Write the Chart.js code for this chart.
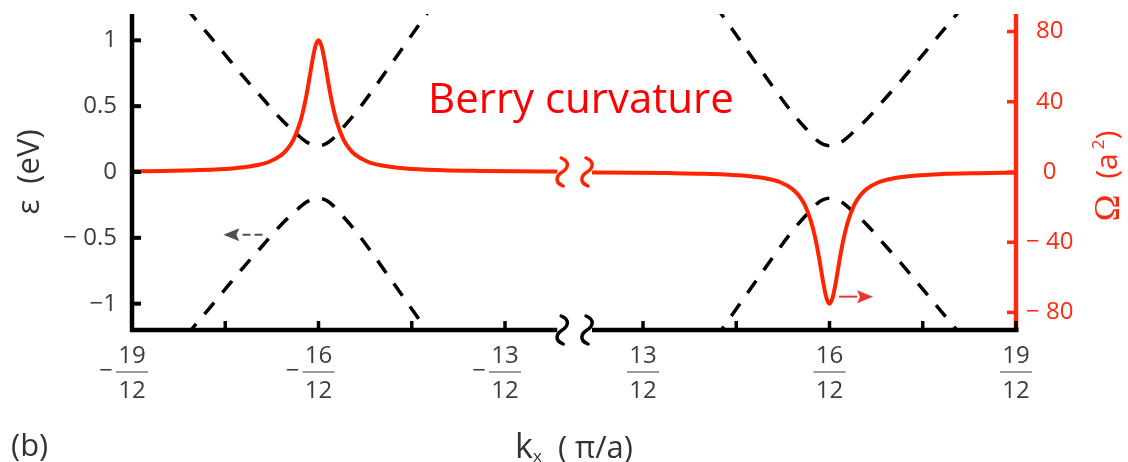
<!DOCTYPE html>
<html>
<head>
<meta charset="utf-8">
<script src="https://cdn.jsdelivr.net/npm/chart.js@4/dist/chart.umd.min.js"></script>
<style>
  html, body { margin: 0; padding: 0; background: #fff; }
  canvas { display: block; }
</style>
</head>
<body>
<canvas id="berryChart" width="1128" height="462"></canvas>
<script>
// k_x is stored in units of pi/(12a); the axis is broken between -12/12 and 12/12
const BREAK_SHIFT = 23.78;
const BREAK_LEFT_END = -12.16;
const BREAK_RIGHT_START = 12.18;

// Berry curvature Omega (a^2), right axis
const kBerryLeft = [-19, -18.5, -18, -17.6, -17.2, -17, -16.8, -16.6, -16.5, -16.4, -16.3, -16.25, -16.2, -16.15, -16.1, -16.05,
  -16, -15.95, -15.9, -15.85, -15.8, -15.75, -15.7, -15.6, -15.5, -15.4, -15.2, -15, -14.6, -14, -13.4, -12.8, -12.16];
const omegaLeft = [0.4, 0.6, 1.0, 1.5, 2.7, 3.8, 5.7, 9.6, 13.1, 18.6, 27.8, 34.4, 42.7, 52.6, 63.1, 71.6,
  75, 71.6, 63.1, 52.6, 42.7, 34.4, 27.8, 18.6, 13.1, 9.6, 5.7, 3.8, 2.0, 1.0, 0.6, 0.4, 0.3];
const kBerryRight = [12.18, 12.8, 13.4, 14, 14.6, 15, 15.2, 15.4, 15.5, 15.6, 15.7, 15.75, 15.8, 15.85, 15.9, 15.95,
  16, 16.05, 16.1, 16.15, 16.2, 16.25, 16.3, 16.4, 16.5, 16.6, 16.8, 17, 17.4, 17.8, 18.4, 19];
const omegaRight = [-0.3, -0.4, -0.6, -1.0, -2.0, -3.8, -5.7, -9.6, -13.1, -18.6, -27.8, -34.4, -42.7, -52.6, -63.1, -71.6,
  -75, -71.6, -63.1, -52.6, -42.7, -34.4, -27.8, -18.6, -13.1, -9.6, -5.7, -3.8, -2.0, -1.2, -0.7, -0.4];

// band energies epsilon (eV), left axis
const kBandLeft = [-18.4, -18.1, -17.8, -17.5, -17.2, -16.9, -16.6, -16.4, -16.2, -16.1, -16, -15.9, -15.8, -15.6, -15.4, -15.1, -14.8, -14.5, -14.2, -13.9];
const eUpperLeft = [1.41, 1.23, 1.06, 0.89, 0.72, 0.56, 0.40, 0.31, 0.23, 0.21, 0.20, 0.21, 0.24, 0.34, 0.45, 0.64, 0.84, 1.04, 1.24, 1.44];
const eLowerLeft = [-1.41, -1.23, -1.06, -0.89, -0.72, -0.56, -0.40, -0.31, -0.23, -0.21, -0.20, -0.21, -0.24, -0.34, -0.45, -0.64, -0.84, -1.04, -1.24, -1.44];
const kBandRight = [13.9, 14.2, 14.5, 14.8, 15.1, 15.4, 15.6, 15.8, 15.9, 16, 16.1, 16.2, 16.4, 16.6, 16.9, 17.2, 17.5, 17.8, 18.1, 18.4];
const eUpperRight = [1.44, 1.24, 1.04, 0.84, 0.64, 0.45, 0.34, 0.24, 0.21, 0.20, 0.21, 0.23, 0.31, 0.40, 0.56, 0.72, 0.89, 1.06, 1.23, 1.41];
const eLowerRight = [-1.44, -1.24, -1.04, -0.84, -0.64, -0.45, -0.34, -0.24, -0.21, -0.20, -0.21, -0.23, -0.31, -0.40, -0.56, -0.72, -0.89, -1.06, -1.23, -1.41];

// ticks
const xTickValues = [-19, -17.5, -16, -14.5, -13, 13, 14.5, 16, 17.5, 19];
const xTickNumerators = ['19', '', '16', '', '13', '13', '', '16', '', '19'];
const epsTicks = [-1, -0.5, 0, 0.5, 1];
const epsTickLabels = ['\u22121', '\u2212 0.5', '0', '0.5', '1'];
const omegaTicks = [-80, -40, 0, 40, 80];
const omegaTickLabels = ['\u2212 80', '\u2212 40', '0', '40', '80'];

const FONT = '"Open Sans", "Noto Sans", sans-serif';
const CURVE_RED = '#ff2400';
const AXIS_RED = '#ff2a10';
const TEXT_DARK = '#333333';
const TICK_GRAY = '#3c3c3c';

Chart.defaults.font.family = FONT;

function toAxis(u) { return u < 0 ? u : u - BREAK_SHIFT; }
function pts(ks, vs) { return ks.map((k, i) => ({ x: toAxis(k), y: vs[i] })); }

function line(ctx, x1, y1, x2, y2) {
  ctx.beginPath(); ctx.moveTo(x1, y1); ctx.lineTo(x2, y2); ctx.stroke();
}

// vertical squiggle used for the axis break
function squiggle(ctx, cx, cy, color) {
  const h = 14;
  ctx.save();
  ctx.strokeStyle = color;
  ctx.lineWidth = 3.5;
  ctx.lineCap = 'round';
  ctx.beginPath();
  ctx.moveTo(cx - 1, cy - h);
  ctx.bezierCurveTo(cx + 9, cy - h + 4, cx + 5, cy - 3, cx, cy);
  ctx.bezierCurveTo(cx - 5, cy + 3, cx - 9, cy + h - 4, cx + 1, cy + h);
  ctx.stroke();
  ctx.restore();
}

function arrow(ctx, x1, y, x2, color, dashed) {
  const dir = Math.sign(x2 - x1);
  const headLen = 16, headHalf = 6.5;
  ctx.save();
  ctx.strokeStyle = color; ctx.fillStyle = color; ctx.lineWidth = 2;
  if (dashed) ctx.setLineDash([8, 4]);
  line(ctx, x1, y, x2 - dir * headLen, y);
  ctx.setLineDash([]);
  ctx.beginPath();
  ctx.moveTo(x2, y);
  ctx.lineTo(x2 - dir * headLen, y - headHalf);
  ctx.lineTo(x2 - dir * (headLen - 3), y);
  ctx.lineTo(x2 - dir * headLen, y + headHalf);
  ctx.closePath();
  ctx.fill();
  ctx.restore();
}

// fixed axis box sizes; tick labels are allowed to overhang the plot edges
function fixWidth(w) {
  return s => { s.width = w; s.paddingTop = 0; s.paddingBottom = 0; };
}

const axisDecor = {
  id: 'axisDecor',
  afterDatasetsDraw(chart) {
    const { ctx, chartArea: a, scales: { x, y, y2 } } = chart;
    ctx.save();
    ctx.lineCap = 'butt';

    // right Omega axis with inward ticks
    ctx.strokeStyle = AXIS_RED;
    ctx.lineWidth = 4.5;
    line(ctx, a.right, a.top, a.right, a.bottom);
    ctx.lineWidth = 3.5;
    omegaTicks.forEach(v => { const py = y2.getPixelForValue(v); line(ctx, a.right - 9, py, a.right, py); });

    // left epsilon axis with inward ticks
    ctx.strokeStyle = '#000';
    ctx.lineWidth = 4.5;
    line(ctx, a.left, a.top, a.left, a.bottom + 2);
    ctx.lineWidth = 4;
    epsTicks.forEach(v => { const py = y.getPixelForValue(v); line(ctx, a.left, py, a.left + 9, py); });

    // broken k_x axis
    const gapL = x.getPixelForValue(toAxis(BREAK_LEFT_END));
    const gapR = x.getPixelForValue(toAxis(BREAK_RIGHT_START));
    ctx.lineWidth = 4.5;
    line(ctx, a.left - 2, a.bottom, gapL, a.bottom);
    line(ctx, gapR, a.bottom, a.right + 2.5, a.bottom);
    ctx.lineWidth = 3.5;
    xTickValues.forEach(u => { const px = x.getPixelForValue(toAxis(u)); line(ctx, px, a.bottom, px, a.bottom - 9); });

    const zeroY = y2.getPixelForValue(0);
    [gapL + 5, gapR - 5].forEach(px => {
      squiggle(ctx, px, zeroY, CURVE_RED);
      squiggle(ctx, px, a.bottom, '#000');
    });

    // arrows pointing to the axis each curve belongs to
    arrow(ctx, x.getPixelForValue(toAxis(-16.9)), y.getPixelForValue(-0.477), x.getPixelForValue(toAxis(-17.53)), '#505050', true);
    arrow(ctx, x.getPixelForValue(toAxis(16.15)), y2.getPixelForValue(-71), x.getPixelForValue(toAxis(16.7)), '#ee3333', false);
    ctx.restore();
  },
  afterDraw(chart) {
    const { ctx, chartArea: a, scales: { x } } = chart;
    ctx.save();

    // fraction bars and leading minus signs for the k_x tick labels
    const barY = a.bottom + 42;
    ctx.strokeStyle = '#777';
    ctx.fillStyle = TICK_GRAY;
    ctx.lineWidth = 1.5;
    ctx.font = '24px ' + FONT;
    ctx.textAlign = 'right';
    ctx.textBaseline = 'middle';
    x.ticks.forEach((t, i) => {
      if (!xTickNumerators[i]) return;
      const px = x.getPixelForValue(t.value);
      line(ctx, px - 16, barY, px + 16, barY);
      if (xTickValues[i] < 0) ctx.fillText('\u2212', px - 19, barY - 1);
    });

    // Omega axis title, reading upwards
    ctx.save();
    ctx.translate(1108, 176);
    ctx.rotate(-Math.PI / 2);
    ctx.fillStyle = AXIS_RED;
    ctx.textBaseline = 'middle';
    ctx.textAlign = 'left';
    const om = 'Ω';
    ctx.font = '36px "Liberation Serif", serif';
    const wOm = ctx.measureText(om).width;
    ctx.font = '30px ' + FONT;
    const wA = ctx.measureText(' (a').width;
    ctx.font = '17px ' + FONT;
    const w2 = ctx.measureText('2').width;
    ctx.font = '30px ' + FONT;
    const wP = ctx.measureText(')').width;
    let cx = -(wOm + 8 + wA + 4 + w2 + wP) / 2;
    ctx.font = '36px "Liberation Serif", serif';
    ctx.fillText(om, cx, 2); cx += wOm + 8;
    ctx.font = '30px ' + FONT;
    ctx.fillText(' (a', cx, 0); cx += wA + 4;
    ctx.font = '17px ' + FONT;
    ctx.fillText('2', cx, -9); cx += w2;
    ctx.font = '30px ' + FONT;
    ctx.fillText(')', cx, 0);
    ctx.restore();

    // k_x axis title
    ctx.fillStyle = TEXT_DARK;
    ctx.textAlign = 'left';
    ctx.textBaseline = 'alphabetic';
    const titleY = 458;
    ctx.font = '34px ' + FONT;
    const wk = ctx.measureText('k').width;
    ctx.font = '17px ' + FONT;
    const wx = ctx.measureText('x').width;
    ctx.font = '31px ' + FONT;
    const rest = '  ( \u03c0/a)';
    const wr = ctx.measureText(rest).width;
    let tx = (a.left + a.right) / 2 - (wk + wx + wr) / 2;
    ctx.font = '34px ' + FONT;
    ctx.fillText('k', tx, titleY); tx += wk;
    ctx.font = '17px ' + FONT;
    ctx.fillText('x', tx, titleY + 4); tx += wx;
    ctx.font = '31px ' + FONT;
    ctx.fillText(rest, tx, titleY);

    // panel letter
    ctx.font = '31px ' + FONT;
    ctx.fillText('(b)', 11, 456);

    // curve caption
    ctx.fillStyle = '#ff0000';
    ctx.font = '42px ' + FONT;
    ctx.fillText('Berry curvature', 428, 113);
    ctx.restore();
  }
};

const berryDs = (data) => ({
  data, yAxisID: 'y2', borderColor: CURVE_RED, borderWidth: 4,
  pointRadius: 0, cubicInterpolationMode: 'monotone'
});
const bandDs = (data) => ({
  data, yAxisID: 'y', borderColor: '#000', borderWidth: 3.5, borderDash: [15, 13],
  pointRadius: 0, cubicInterpolationMode: 'monotone'
});

new Chart(document.getElementById('berryChart'), {
  type: 'line',
  data: {
    datasets: [
      berryDs(pts(kBerryLeft, omegaLeft)),
      berryDs(pts(kBerryRight, omegaRight)),
      bandDs(pts(kBandLeft, eUpperLeft)),
      bandDs(pts(kBandLeft, eLowerLeft)),
      bandDs(pts(kBandRight, eUpperRight)),
      bandDs(pts(kBandRight, eLowerRight))
    ]
  },
  options: {
    responsive: false,
    animation: false,
    devicePixelRatio: 1,
    layout: { padding: { top: 14 } },
    plugins: { legend: { display: false }, tooltip: { enabled: false } },
    scales: {
      x: {
        type: 'linear',
        min: -19,
        max: toAxis(19),
        grid: { display: false, drawTicks: false },
        border: { display: false },
        afterBuildTicks: s => { s.ticks = xTickValues.map(u => ({ value: toAxis(u) })); },
        afterFit: s => { s.height = 132; },
        ticks: {
          autoSkip: false, maxRotation: 0, padding: 9, color: TICK_GRAY,
          font: { size: 24, lineHeight: 1.45 },
          callback: (v, i) => xTickNumerators[i] ? [xTickNumerators[i], '12'] : ''
        }
      },
      y: {
        position: 'left',
        min: -1.2,
        max: 1.2,
        grid: { display: false, drawTicks: false },
        border: { display: false },
        afterBuildTicks: s => { s.ticks = epsTicks.map(v => ({ value: v })); },
        afterFit: fixWidth(132),
        ticks: {
          padding: 15, color: TICK_GRAY, font: { size: 24, lineHeight: 1 },
          callback: (v, i) => epsTickLabels[i]
        },
        title: {
          display: true, text: 'ε  (eV)', color: TEXT_DARK,
          font: { size: 31 }, padding: { top: 12, bottom: 0 }
        }
      },
      y2: {
        position: 'right',
        min: -90,
        max: 90,
        grid: { display: false, drawTicks: false },
        border: { display: false },
        afterBuildTicks: s => { s.ticks = omegaTicks.map(v => ({ value: v })); },
        afterFit: fixWidth(112),
        ticks: {
          padding: 10, crossAlign: 'center', color: AXIS_RED, font: { size: 24, lineHeight: 1 },
          callback: (v, i) => omegaTickLabels[i]
        }
      }
    }
  },
  plugins: [axisDecor]
});
</script>
</body>
</html>
